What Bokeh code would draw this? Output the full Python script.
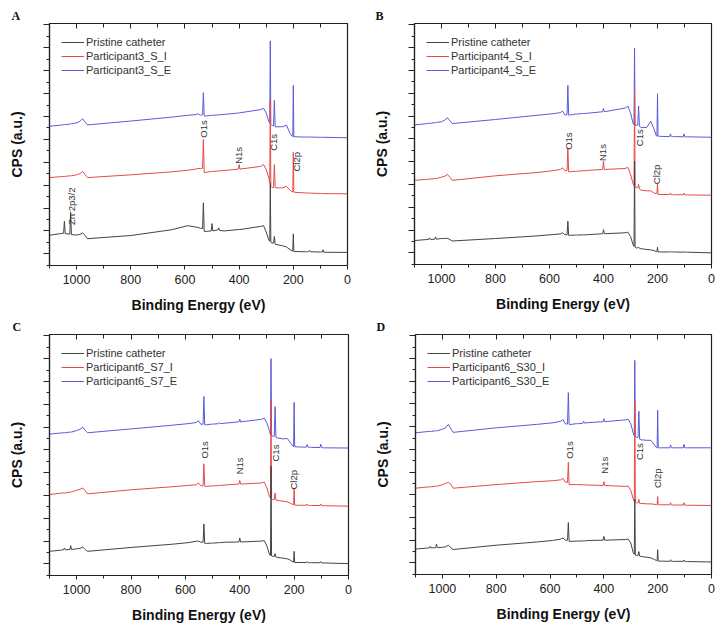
from math import pi
from bokeh.plotting import figure
from bokeh.models import (Range1d, FixedTicker, LinearAxis, CustomJSTickFormatter,
                          Legend, LegendItem, Title)
from bokeh.layouts import row, column
from bokeh.embed import file_html
from bokeh.resources import INLINE
from bokeh.core.properties import value

# ---------------- data ----------------
energy = [1100, 1060, 1048, 1045, 1042, 1025, 1022, 1019, 1000, 988,
          978, 968, 960, 800, 650, 590, 560, 552, 543, 535,
          532, 529, 522, 503, 500, 497, 478, 475, 472, 455,
          403, 400, 397, 320, 310, 300, 291, 287, 285, 283,
          279, 273, 270, 267, 260, 240, 225, 212, 204, 202,
          200, 198, 190, 155, 152, 149, 143, 140, 137, 105,
          102, 99, 93, 90, 87, 0]

a_blue = [5.57, 5.62, 5.64, 5.65, 5.64, 5.67, 5.68, 5.68, 5.72, 5.78,
          5.90, 5.75, 5.63, 5.80, 5.97, 6.05, 6.08, 6.12, 6.05, 6.08,
          7.04, 6.02, 6.02, 6.05, 6.05, 6.05, 6.07, 6.07, 6.07, 6.09,
          6.15, 6.16, 6.16, 6.30, 6.36, 6.15, 5.80, 5.70, 9.30, 5.65,
          5.60, 5.60, 6.70, 5.55, 5.55, 5.55, 5.62, 5.25, 5.13, 5.12,
          7.36, 5.12, 5.11, 5.10, 5.10, 5.10, 5.10, 5.10, 5.10, 5.09,
          5.09, 5.09, 5.09, 5.09, 5.09, 5.07]
a_red = [3.33, 3.37, 3.38, 3.38, 3.38, 3.41, 3.41, 3.41, 3.45, 3.50,
         3.60, 3.45, 3.33, 3.45, 3.58, 3.65, 3.70, 3.73, 3.72, 3.74,
         4.99, 3.55, 3.56, 3.60, 3.60, 3.60, 3.62, 3.62, 3.62, 3.64,
         3.70, 3.90, 3.70, 3.82, 3.90, 3.68, 3.35, 3.10, 6.70, 2.95,
         2.90, 2.90, 3.90, 2.90, 2.88, 2.88, 2.95, 2.78, 2.70, 2.70,
         4.43, 2.70, 2.68, 2.66, 2.66, 2.66, 2.65, 2.65, 2.65, 2.64,
         2.64, 2.64, 2.63, 2.63, 2.63, 2.62]
a_black = [0.81, 0.88, 0.90, 1.42, 0.88, 0.86, 1.82, 0.84, 0.82, 0.85,
           0.91, 0.80, 0.66, 0.80, 1.05, 1.23, 1.17, 1.15, 1.12, 1.10,
           2.23, 0.98, 0.98, 1.00, 1.32, 1.00, 1.05, 1.13, 1.02, 1.00,
           1.06, 1.06, 1.06, 1.20, 1.23, 0.95, 0.62, 0.55, 3.10, 0.50,
           0.47, 0.47, 0.76, 0.42, 0.40, 0.35, 0.30, 0.18, 0.13, 0.12,
           0.87, 0.10, 0.10, 0.09, 0.09, 0.09, 0.10, 0.15, 0.09, 0.08,
           0.08, 0.08, 0.08, 0.18, 0.07, 0.06]

b_blue = [5.61, 5.66, 5.68, 5.68, 5.68, 5.71, 5.71, 5.72, 5.75, 5.82,
          5.93, 5.78, 5.67, 5.85, 6.03, 6.10, 6.15, 6.22, 6.05, 6.06,
          7.35, 6.04, 6.05, 6.09, 6.09, 6.09, 6.11, 6.11, 6.11, 6.13,
          6.19, 6.33, 6.19, 6.35, 6.44, 6.15, 5.70, 5.62, 8.97, 5.60,
          5.60, 5.60, 6.44, 5.55, 5.50, 5.50, 5.78, 5.40, 5.12, 5.12,
          6.98, 5.12, 5.11, 5.10, 5.22, 5.10, 5.10, 5.10, 5.10, 5.09,
          5.22, 5.09, 5.09, 5.09, 5.09, 5.07]
b_red = [3.18, 3.22, 3.23, 3.23, 3.23, 3.26, 3.26, 3.26, 3.32, 3.36,
         3.44, 3.30, 3.18, 3.38, 3.52, 3.60, 3.66, 3.73, 3.60, 3.62,
         4.61, 3.55, 3.56, 3.58, 3.58, 3.58, 3.60, 3.60, 3.60, 3.62,
         3.66, 4.03, 3.66, 3.70, 3.75, 3.45, 3.05, 2.95, 7.22, 2.90,
         2.86, 2.86, 3.00, 2.80, 2.75, 2.72, 2.72, 2.62, 2.60, 2.60,
         3.03, 2.56, 2.56, 2.56, 2.63, 2.55, 2.55, 2.55, 2.55, 2.55,
         2.62, 2.54, 2.54, 2.54, 2.54, 2.53]
b_black = [0.54, 0.58, 0.59, 0.66, 0.59, 0.60, 0.70, 0.60, 0.63, 0.63,
           0.64, 0.58, 0.52, 0.63, 0.74, 0.80, 0.83, 0.88, 0.80, 0.79,
           1.39, 0.77, 0.77, 0.78, 0.78, 0.78, 0.79, 0.79, 0.79, 0.80,
           0.84, 1.02, 0.84, 0.88, 0.91, 0.72, 0.38, 0.28, 4.03, 0.25,
           0.22, 0.22, 0.25, 0.20, 0.18, 0.15, 0.13, 0.10, 0.05, 0.05,
           0.25, 0.04, 0.04, 0.04, 0.06, 0.04, 0.04, 0.04, 0.04, 0.03,
           0.06, 0.03, 0.03, 0.03, 0.03, 0.00]

c_blue = [5.69, 5.74, 5.75, 5.75, 5.75, 5.78, 5.78, 5.78, 5.85, 5.90,
          6.00, 5.85, 5.75, 5.92, 6.08, 6.15, 6.20, 6.28, 6.12, 6.13,
          7.34, 6.10, 6.10, 6.13, 6.13, 6.13, 6.15, 6.20, 6.15, 6.17,
          6.23, 6.35, 6.23, 6.34, 6.39, 6.17, 5.85, 5.65, 9.00, 5.62,
          5.60, 5.60, 6.90, 5.55, 5.52, 5.48, 5.50, 5.28, 5.15, 5.15,
          7.08, 5.14, 5.13, 5.12, 5.23, 5.12, 5.11, 5.11, 5.11, 5.10,
          5.25, 5.10, 5.09, 5.09, 5.09, 5.08]
c_red = [3.04, 3.10, 3.11, 3.11, 3.11, 3.15, 3.15, 3.15, 3.23, 3.27,
         3.33, 3.20, 3.07, 3.25, 3.38, 3.44, 3.47, 3.55, 3.42, 3.43,
         4.39, 3.40, 3.40, 3.42, 3.42, 3.42, 3.44, 3.44, 3.44, 3.46,
         3.50, 3.66, 3.50, 3.55, 3.59, 3.33, 2.95, 2.88, 7.15, 2.85,
         2.82, 2.82, 3.11, 2.80, 2.78, 2.75, 2.72, 2.65, 2.60, 2.60,
         3.33, 2.58, 2.57, 2.57, 2.63, 2.56, 2.56, 2.56, 2.56, 2.56,
         2.63, 2.55, 2.55, 2.55, 2.55, 2.53]
c_black = [0.55, 0.60, 0.62, 0.70, 0.62, 0.63, 0.80, 0.63, 0.66, 0.68,
           0.74, 0.62, 0.55, 0.72, 0.86, 0.93, 0.99, 1.00, 0.95, 0.95,
           1.75, 0.90, 0.90, 0.91, 0.91, 0.91, 0.93, 0.93, 0.93, 0.95,
           0.96, 1.14, 0.96, 1.00, 1.02, 0.78, 0.42, 0.36, 4.28, 0.35,
           0.33, 0.33, 0.45, 0.30, 0.28, 0.25, 0.22, 0.15, 0.08, 0.08,
           0.55, 0.06, 0.06, 0.06, 0.10, 0.05, 0.05, 0.05, 0.05, 0.05,
           0.10, 0.04, 0.04, 0.04, 0.04, 0.01]

d_blue = [5.73, 5.78, 5.79, 5.79, 5.79, 5.82, 5.82, 5.82, 5.89, 5.95,
          6.10, 5.90, 5.75, 5.95, 6.10, 6.17, 6.24, 6.32, 6.12, 6.12,
          7.50, 6.10, 6.10, 6.13, 6.13, 6.13, 6.15, 6.24, 6.16, 6.18,
          6.22, 6.35, 6.22, 6.30, 6.33, 6.13, 5.73, 5.60, 8.92, 5.55,
          5.53, 5.53, 6.68, 5.45, 5.42, 5.40, 5.40, 5.20, 5.07, 5.07,
          6.73, 5.07, 5.07, 5.07, 5.20, 5.07, 5.07, 5.07, 5.07, 5.07,
          5.22, 5.07, 5.07, 5.07, 5.07, 5.07]
d_red = [3.29, 3.34, 3.35, 3.35, 3.35, 3.38, 3.38, 3.38, 3.44, 3.50,
         3.55, 3.45, 3.29, 3.45, 3.58, 3.62, 3.66, 3.73, 3.55, 3.55,
         4.43, 3.45, 3.45, 3.45, 3.45, 3.45, 3.44, 3.44, 3.44, 3.43,
         3.41, 3.58, 3.41, 3.37, 3.39, 3.20, 2.82, 2.70, 7.09, 2.68,
         2.65, 2.65, 2.80, 2.62, 2.62, 2.60, 2.60, 2.58, 2.57, 2.57,
         2.92, 2.56, 2.56, 2.56, 2.65, 2.55, 2.55, 2.55, 2.55, 2.55,
         2.65, 2.54, 2.54, 2.54, 2.54, 2.53]
d_black = [0.61, 0.65, 0.66, 0.73, 0.66, 0.67, 0.83, 0.67, 0.69, 0.71,
           0.78, 0.66, 0.59, 0.78, 0.92, 0.99, 1.05, 1.10, 1.00, 1.00,
           1.78, 0.95, 0.95, 0.96, 0.96, 0.96, 0.97, 0.97, 0.97, 0.99,
           1.00, 1.17, 1.00, 1.03, 1.05, 0.88, 0.45, 0.38, 2.80, 0.35,
           0.33, 0.33, 0.50, 0.30, 0.28, 0.25, 0.22, 0.15, 0.10, 0.10,
           0.58, 0.08, 0.08, 0.07, 0.14, 0.07, 0.07, 0.07, 0.07, 0.07,
           0.13, 0.06, 0.06, 0.06, 0.06, 0.04]

names_a = ["Pristine catheter", "Participant3_S_I", "Participant3_S_E"]
names_b = ["Pristine catheter", "Participant4_S_I", "Participant4_S_E"]
names_c = ["Pristine catheter", "Participant6_S7_I", "Participant6_S7_E"]
names_d = ["Pristine catheter", "Participant6_S30_I", "Participant6_S30_E"]

ann_a_text = ["Zn 2p3/2", "O1s", "N1s", "C1s", "Cl2p"]
ann_a_x = [1020, 532, 403, 274, 188]
ann_a_y = [2.08, 5.45, 4.30, 4.87, 4.02]
ann_text = ["O1s", "N1s", "C1s", "Cl2p"]
ann_b_x = [529, 405, 268, 202]
ann_b_y = [4.90, 4.40, 5.05, 3.44]
ann_c_x = [530, 400, 270, 202]
ann_c_y = [5.00, 4.30, 4.86, 3.69]
ann_d_x = [529, 397, 267, 200]
ann_d_y = [4.97, 4.30, 4.90, 3.73]

x_major = [0, 200, 400, 600, 800, 1000]
x_minor = [100, 300, 500, 700, 900, 1100]
y_major = list(range(0, 11))
y_minor = [k + 0.5 for k in range(-1, 10)]

# ---------------- styling ----------------
FONT = "Liberation Sans"
C_BLACK = "#444444"
C_RED = "#e44a4a"
C_BLUE = "#5a5ad8"
AXC = "#222222"


def make_panel(letter, names, black, red, blue, atext, ax_, ay_,
               bl, br, bt, bb, fw, fh, loff):
    p = figure(frame_width=fw, frame_height=fh,
               x_range=Range1d(1100, 0), y_range=Range1d(-0.51, 10.06),
               output_backend="svg", toolbar_location=None,
               min_border_left=bl, min_border_right=br,
               min_border_top=bt, min_border_bottom=bb,
               x_axis_label="Binding Energy (eV)", y_axis_label="CPS (a.u.)")
    p.grid.visible = False
    p.outline_line_color = AXC
    p.outline_line_width = 1.2
    p.background_fill_color = "white"
    p.border_fill_color = "white"

    p.title = Title(text=letter, align="left", offset=loff, standoff=2,
                    text_font="Liberation Serif", text_font_style="bold",
                    text_font_size="12px", text_color="#111111")

    xa = p.below[0]
    xa.ticker = FixedTicker(ticks=x_major, minor_ticks=x_minor)
    xa.major_tick_in = 0
    xa.major_tick_out = 4
    xa.minor_tick_in = 0
    xa.minor_tick_out = 3
    xa.major_label_standoff = 5
    xa.axis_label_standoff = 10
    xa.major_label_text_font = FONT
    xa.major_label_text_font_size = "12.5px"
    xa.major_label_text_color = AXC
    xa.axis_label_text_font = FONT
    xa.axis_label_text_font_style = "bold"
    xa.axis_label_text_font_size = "14px"
    xa.axis_label_text_color = "#111111"
    xa.axis_line_color = AXC
    xa.axis_line_width = 1.2
    xa.major_tick_line_color = AXC
    xa.minor_tick_line_color = AXC

    ya = p.left[0]
    ya.ticker = FixedTicker(ticks=y_major, minor_ticks=y_minor)
    ya.formatter = CustomJSTickFormatter(code="return ''")
    ya.major_label_text_font_size = "0px"
    ya.major_tick_in = 0
    ya.major_tick_out = 6
    ya.minor_tick_in = 0
    ya.minor_tick_out = 3
    ya.major_label_standoff = 0
    ya.axis_label_standoff = 19
    ya.axis_label_text_font = FONT
    ya.axis_label_text_font_style = "bold"
    ya.axis_label_text_font_size = "14px"
    ya.axis_label_text_color = "#111111"
    ya.axis_line_color = AXC
    ya.axis_line_width = 1.2
    ya.major_tick_line_color = AXC
    ya.minor_tick_line_color = AXC

    top = LinearAxis(ticker=FixedTicker(ticks=x_major, minor_ticks=x_minor),
                     formatter=CustomJSTickFormatter(code="return ''"),
                     major_label_text_font_size="0px",
                     major_tick_in=5, major_tick_out=0,
                     minor_tick_in=4, minor_tick_out=0,
                     major_label_standoff=0,
                     axis_line_color=AXC, axis_line_width=1.2,
                     major_tick_line_color=AXC, minor_tick_line_color=AXC)
    p.add_layout(top, "above")

    rb = p.line(energy, blue, line_color=C_BLUE, line_width=1)
    rr = p.line(energy, red, line_color=C_RED, line_width=1)
    rk = p.line(energy, black, line_color=C_BLACK, line_width=1)

    legend = Legend(items=[LegendItem(label=names[0], renderers=[rk]),
                           LegendItem(label=names[1], renderers=[rr]),
                           LegendItem(label=names[2], renderers=[rb])],
                    location="top_left", margin=12, padding=5, spacing=0,
                    label_standoff=2, glyph_width=23, glyph_height=14,
                    label_height=14, label_text_font=FONT,
                    label_text_font_size="11px", label_text_color="#333333",
                    border_line_color=None, background_fill_alpha=0)
    p.add_layout(legend)

    p.text(x=ax_, y=ay_, text=atext, angle=pi / 2,
           text_font=value(FONT), text_font_size="9.5px",
           text_color="#333333", text_align="center", text_baseline="middle")
    return p


pa = make_panel("A", names_a, a_black, a_red, a_blue, ann_a_text, ann_a_x, ann_a_y,
                49, 23, 22, 52, 298, 242, -38)
pb = make_panel("B", names_b, b_black, b_red, b_blue, ann_text, ann_b_x, ann_b_y,
                44, 12, 23, 52, 297, 241, -39)
pc = make_panel("C", names_c, c_black, c_red, c_blue, ann_text, ann_c_x, ann_c_y,
                49, 22, 14, 52, 299, 241, -37)
pd = make_panel("D", names_d, d_black, d_red, d_blue, ann_text, ann_d_x, ann_d_y,
                45, 12, 15, 52, 296, 240, -39)

layout = column(row(pa, pb), row(pc, pd))
open("out.html", "w").write(file_html(layout, INLINE))
